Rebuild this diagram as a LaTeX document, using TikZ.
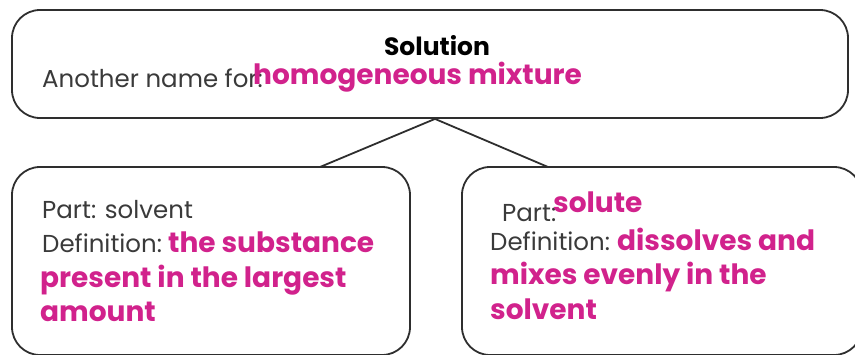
\documentclass[tikz,border=0pt]{standalone}
\usepackage{fontspec}
\setmainfont{Poppins}
\usetikzlibrary{calc}
\definecolor{inkgray}{HTML}{3A3A3A}
\definecolor{pinkhl}{HTML}{D1228C}
\definecolor{framegray}{HTML}{2E2E2E}
\tikzset{
  card/.style={draw=framegray, line width=1.8pt, rounded corners=28pt, inner sep=0pt},
  link/.style={draw=framegray, line width=1.8pt},
  plain/.style={anchor=base west, inner sep=0pt, text=inkgray, font=\fontsize{24.5}{28}\selectfont},
  hl/.style={anchor=base west, inner sep=0pt, text=pinkhl, font=\fontsize{28}{32}\selectfont\bfseries},
}
\begin{document}
\begin{tikzpicture}[x=1pt,y=-1pt]
\useasboundingbox (0,0) rectangle (855,354);
% boxes
\node[card, minimum width=836pt, minimum height=108pt] (top) at (430,64) {};
\node[card, minimum width=398pt, minimum height=188pt] (left) at (211,261) {};
\node[card, minimum width=400pt, minimum height=188pt] (right) at (662,261) {};
% junction points on the lower boxes
\coordinate (lj) at (320,167);
\coordinate (rj) at (548,167);
\draw[link] (lj) -- (top.south -| 435,0) coordinate (tj) -- (rj);
% top box text
\node[anchor=base, inner sep=0pt, text=black, font=\fontsize{25}{28}\selectfont\bfseries] (title) at (437,55) {Solution};
\node[plain] (aname) at (42,87) {Another name for:};
\node[hl] (homog) at (253,84) {homogeneous mixture};
% left box text
\node[plain] (lpart) at (42,218) {Part: solvent};
\node[plain] (ldef) at (42,252) {Definition:};
\node[hl] (l1) at (168,252) {the substance};
\node[hl] (l2) at (40,287) {present in the largest};
\node[hl] (l3) at (40,321) {amount};
% right box text
\node[plain] (rpart) at (502,221) {Part:};
\node[hl] (rsol) at (553,212) {solute};
\node[plain] (rdef) at (490,250) {Definition:};
\node[hl] (r1) at (617,250) {dissolves and};
\node[hl] (r2) at (490,284) {mixes evenly in the};
\node[hl] (r3) at (490,319) {solvent};
\end{tikzpicture}
\end{document}
